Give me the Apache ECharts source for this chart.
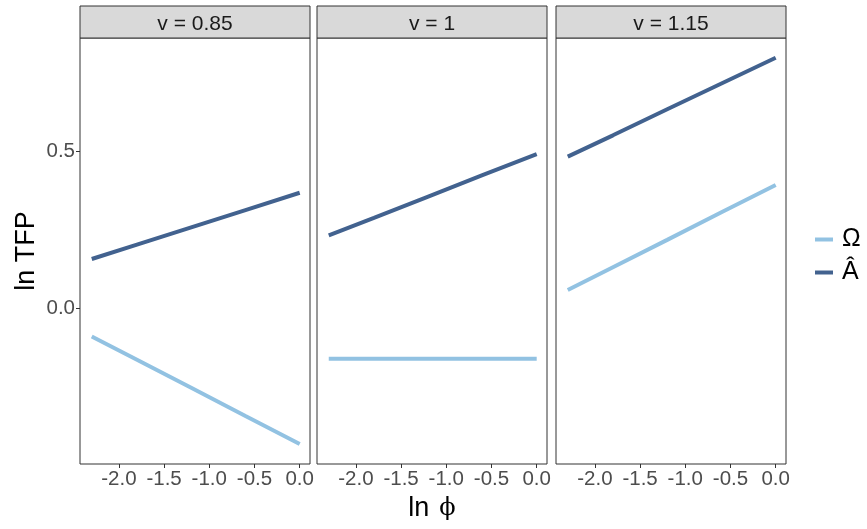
<!DOCTYPE html>
<html><head><meta charset="utf-8">
<script src="https://cdn.jsdelivr.net/npm/echarts@6/dist/echarts.min.js"></script>
<style>html,body{margin:0;padding:0;background:#fff}#c{width:867px;height:529px}</style>
</head><body><div id="c"></div>
<script>
// ---- data ----
const panels = ['v = 0.85', 'v = 1', 'v = 1.15'];
const lnPhi = [-2.3, -1.8, -1.2, -0.6, 0];
const omega_085 = [-0.091, -0.165, -0.254, -0.344, -0.433];
const ahat_085  = [0.156, 0.202, 0.257, 0.312, 0.367];
const omega_100 = [-0.162, -0.162, -0.162, -0.162, -0.162];
const ahat_100  = [0.231, 0.287, 0.355, 0.423, 0.490];
const omega_115 = [0.057, 0.130, 0.217, 0.305, 0.392];
const ahat_115  = [0.482, 0.550, 0.633, 0.715, 0.797];
const xTicks = [-2, -1.5, -1, -0.5, 0];
const yTicks = [0, 0.5];
const seriesNames = ['Ω', 'Â'];

const omegaByPanel = [omega_085, omega_100, omega_115];
const ahatByPanel = [ahat_085, ahat_100, ahat_115];
const colors = ['#92c2e2', '#42628f'];

const gridLefts = [80, 317, 556];
const gridW = 230, gridTop = 38, gridH = 426;
const tickFont = 'Liberation Sans, Arial, sans-serif';

const grids = [], xAxes = [], yAxes = [], series = [], graphics = [];
panels.forEach((p, i) => {
  grids.push({left: gridLefts[i], top: gridTop, width: gridW, height: gridH,
    show: true, borderColor: '#333333', borderWidth: 1, backgroundColor: '#fff'});
  xAxes.push({
    type: 'value', gridIndex: i, min: -2.43, max: 0.114,
    axisLine: {show: false, onZero: false}, splitLine: {show: false},
    axisTick: {show: true, length: 4, lineStyle: {color: '#333333'}, customValues: xTicks},
    axisLabel: {show: true, customValues: xTicks, formatter: v => v.toFixed(1),
      color: '#4d4d4d', fontSize: 20.5, fontFamily: tickFont, margin: 5},
    name: i === 1 ? '{a|ln}   {b|ϕ}' : '',
    nameLocation: 'middle', nameGap: 30,
    nameTextStyle: {rich: {
      a: {fontSize: 27, fontFamily: tickFont, color: '#000'},
      b: {fontSize: 24, fontFamily: 'DejaVu Serif, serif', color: '#000'}
    }}
  });
  yAxes.push({
    type: 'value', gridIndex: i, min: -0.497, max: 0.860,
    axisLine: {show: false, onZero: false}, splitLine: {show: false},
    axisTick: {show: i === 0, length: 4, lineStyle: {color: '#333333'}, customValues: yTicks},
    axisLabel: {show: i === 0, customValues: yTicks, formatter: v => v.toFixed(1),
      color: '#4d4d4d', fontSize: 20.5, fontFamily: tickFont, margin: 5},
    name: i === 0 ? 'ln TFP' : '', nameLocation: 'middle', nameGap: 40, nameRotate: 90,
    nameTextStyle: {fontSize: 27, fontFamily: tickFont, color: '#000'}
  });
  [omegaByPanel[i], ahatByPanel[i]].forEach((arr, k) => {
    series.push({
      type: 'line', name: seriesNames[k], xAxisIndex: i, yAxisIndex: i,
      data: lnPhi.map((x, j) => [x, arr[j]]),
      showSymbol: false, symbol: 'none', silent: true,
      lineStyle: {width: 4, color: colors[k]}, itemStyle: {color: colors[k]}
    });
  });
  graphics.push({
    type: 'rect', shape: {x: gridLefts[i], y: 6, width: gridW, height: gridTop - 6},
    style: {fill: '#d9d9d9', stroke: '#333333', lineWidth: 1}
  });
  graphics.push({
    type: 'text', x: gridLefts[i] + gridW / 2, y: (6 + gridTop) / 2 + 2,
    style: {text: p, fill: '#1a1a1a', fontSize: 21, fontFamily: tickFont,
      align: 'center', verticalAlign: 'middle'}
  });
});

const chart = echarts.init(document.getElementById('c'), null, {renderer: 'canvas'});
chart.setOption({
  animation: false,
  backgroundColor: '#ffffff',
  grid: grids, xAxis: xAxes, yAxis: yAxes, series: series,
  graphic: graphics,
  legend: {
    data: seriesNames, orient: 'vertical', left: 810, top: 222,
    icon: 'rect', itemWidth: 18, itemHeight: 4, itemGap: 8,
    textStyle: {fontSize: 25, fontFamily: 'Liberation Sans, Arial, sans-serif', color: '#000',
      lineHeight: 22, padding: [0, 0, 0, 4]}
  }
});
</script></body></html>
